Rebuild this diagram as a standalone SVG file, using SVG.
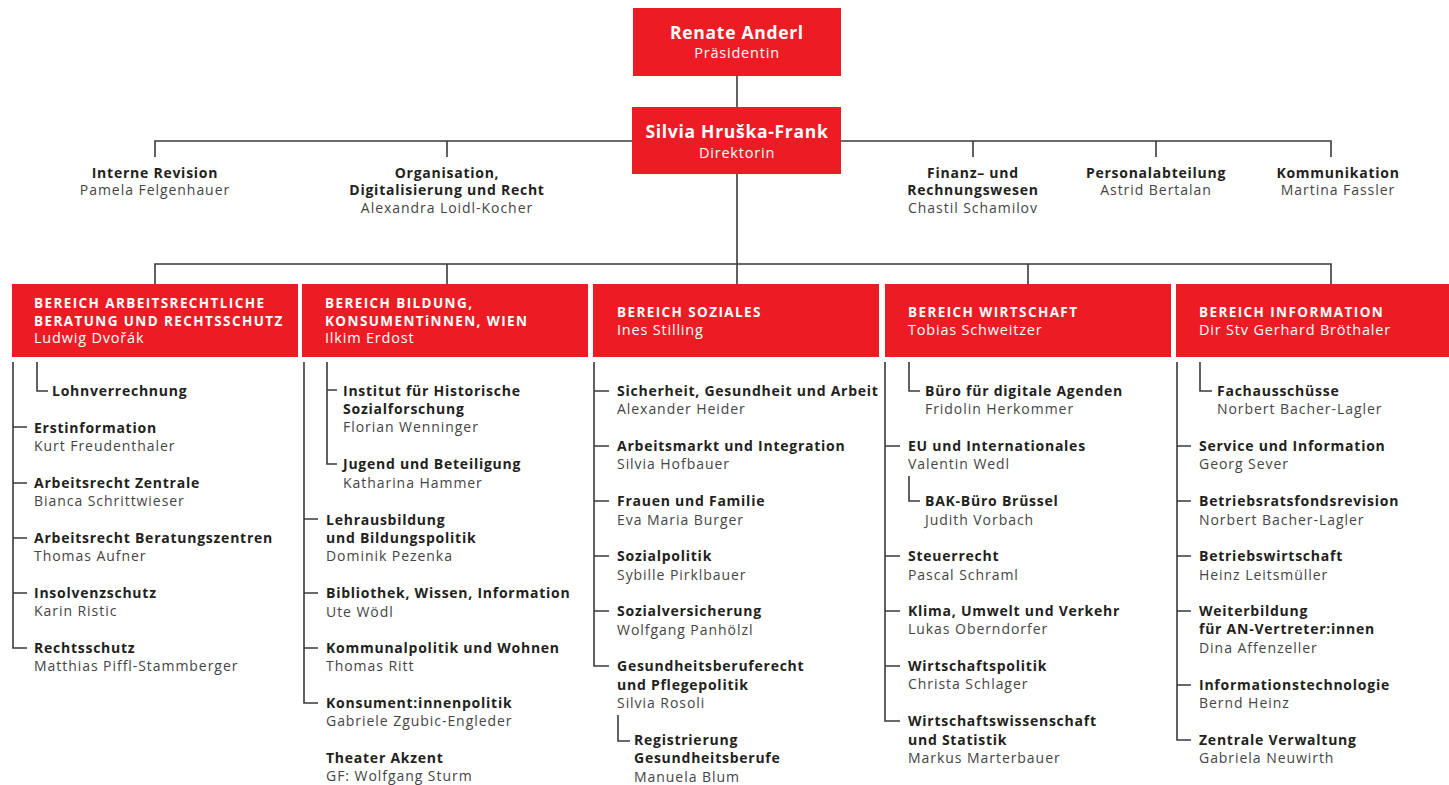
<svg xmlns="http://www.w3.org/2000/svg" width="1449" height="785" viewBox="0 0 1449 785">
<style>
text{font-family:"Open Sans","Liberation Sans",sans-serif}
.box{fill:#ED1C24}
.tb{font-size:17.5px;font-weight:700;fill:#fff;text-anchor:middle;letter-spacing:0.7px}
.ts{font-size:14.5px;fill:#fff;text-anchor:middle;letter-spacing:0.8px}
.h{font-size:13.5px;font-weight:700;fill:#fff;letter-spacing:1.4px}
.hn{font-size:14.5px;fill:#fff;letter-spacing:0.8px}
.t{font-size:14px;font-weight:700;fill:#231f20;letter-spacing:0.75px}
.n{font-size:14px;fill:#444;letter-spacing:0.95px}
.m{text-anchor:middle}
.c{stroke:#3a3a3a;stroke-width:1.6;fill:none}
</style>
<rect width="1449" height="785" fill="#fff"/>
<g id="connectors">
<path class="c" d="M737 76V107"/>
<path class="c" d="M632 141H155V157M447 141V157"/>
<path class="c" d="M841 141H1331V157M973 141V157M1156 141V157"/>
<path class="c" d="M737 174V284M155 284V264H1331V284M447 264V284M1028 264V284"/>
<path class="c" d="M13 362V648H27M13 427H27M13 483H27M13 538H27M13 593H27M37 362V391H48"/>
<path class="c" d="M304 362V703H318M304 519H318M304 593H318M304 648H318M327 362V464H337M327 390H337"/>
<path class="c" d="M594 362V666H609M594 391H609M594 446H609M594 501H609M594 556H609M594 611H609M618 715V741H630"/>
<path class="c" d="M885 362V721H900M885 446H900M885 556H900M885 611H900M885 666H900M909 362V391H920M909 476V501H920"/>
<path class="c" d="M1177 362V740H1191M1177 446H1191M1177 501H1191M1177 556H1191M1177 611H1191M1177 685H1191M1200 362V391H1212"/>
</g>
<g id="praesidentin">
<rect class="box" x="633" y="8" width="208" height="68"/>
<text class="tb" x="737" y="39">Renate Anderl</text>
<text class="ts" x="737" y="58">Präsidentin</text>
</g>
<g id="direktorin">
<rect class="box" x="632" y="107" width="209" height="67"/>
<text class="tb" x="737" y="138">Silvia Hruška-Frank</text>
<text class="ts" x="737" y="158">Direktorin</text>
</g>
<g id="interne-revision">
<text class="t m" x="155" y="178">Interne Revision</text>
<text class="n m" x="155" y="195">Pamela Felgenhauer</text>
</g>
<g id="organisation">
<text class="t m" x="447" y="178">Organisation,</text>
<text class="t m" x="447" y="195">Digitalisierung und Recht</text>
<text class="n m" x="447" y="213">Alexandra Loidl-Kocher</text>
</g>
<g id="finanz">
<text class="t m" x="973" y="178">Finanz– und</text>
<text class="t m" x="973" y="195">Rechnungswesen</text>
<text class="n m" x="973" y="213">Chastil Schamilov</text>
</g>
<g id="personal">
<text class="t m" x="1156" y="178">Personalabteilung</text>
<text class="n m" x="1156" y="195">Astrid Bertalan</text>
</g>
<g id="kommunikation">
<text class="t m" x="1338" y="178">Kommunikation</text>
<text class="n m" x="1338" y="195">Martina Fassler</text>
</g>
<g id="bereich-arbeitsrecht">
<rect class="box" x="12" y="284" width="286" height="73"/>
<text class="h" x="34" y="308">BEREICH ARBEITSRECHTLICHE</text>
<text class="h" x="34" y="326">BERATUNG UND RECHTSSCHUTZ</text>
<text class="hn" x="34" y="343">Ludwig Dvořák</text>
</g>
<g id="bereich-bildung">
<rect class="box" x="302" y="284" width="286" height="73"/>
<text class="h" x="325" y="308">BEREICH BILDUNG,</text>
<text class="h" x="325" y="326">KONSUMENTiNNEN, WIEN</text>
<text class="hn" x="325" y="343">Ilkim Erdost</text>
</g>
<g id="bereich-soziales">
<rect class="box" x="593" y="284" width="286" height="73"/>
<text class="h" x="617" y="317">BEREICH SOZIALES</text>
<text class="hn" x="617" y="335">Ines Stilling</text>
</g>
<g id="bereich-wirtschaft">
<rect class="box" x="885" y="284" width="286" height="73"/>
<text class="h" x="908" y="317">BEREICH WIRTSCHAFT</text>
<text class="hn" x="908" y="335">Tobias Schweitzer</text>
</g>
<g id="bereich-information">
<rect class="box" x="1176" y="284" width="273" height="73"/>
<text class="h" x="1199" y="317">BEREICH INFORMATION</text>
<text class="hn" x="1199" y="335">Dir Stv Gerhard Bröthaler</text>
</g>
<g id="col1">
<g id="lohnverrechnung"><text class="t" x="52" y="396">Lohnverrechnung</text></g>
<g id="erstinformation"><text class="t" x="34" y="433">Erstinformation</text><text class="n" x="34" y="451">Kurt Freudenthaler</text></g>
<g id="ar-zentrale"><text class="t" x="34" y="488">Arbeitsrecht Zentrale</text><text class="n" x="34" y="506">Bianca Schrittwieser</text></g>
<g id="ar-beratungszentren"><text class="t" x="34" y="543">Arbeitsrecht Beratungszentren</text><text class="n" x="34" y="561">Thomas Aufner</text></g>
<g id="insolvenzschutz"><text class="t" x="34" y="598">Insolvenzschutz</text><text class="n" x="34" y="616">Karin Ristic</text></g>
<g id="rechtsschutz"><text class="t" x="34" y="653">Rechtsschutz</text><text class="n" x="34" y="671">Matthias Piffl-Stammberger</text></g>
</g>
<g id="col2">
<g id="institut"><text class="t" x="343" y="396">Institut für Historische</text><text class="t" x="343" y="414">Sozialforschung</text><text class="n" x="343" y="432">Florian Wenninger</text></g>
<g id="jugend"><text class="t" x="343" y="469">Jugend und Beteiligung</text><text class="n" x="343" y="488">Katharina Hammer</text></g>
<g id="lehrausbildung"><text class="t" x="326" y="525">Lehrausbildung</text><text class="t" x="326" y="543">und Bildungspolitik</text><text class="n" x="326" y="561">Dominik Pezenka</text></g>
<g id="bibliothek"><text class="t" x="326" y="598">Bibliothek, Wissen, Information</text><text class="n" x="326" y="617">Ute Wödl</text></g>
<g id="kommunalpolitik"><text class="t" x="326" y="653">Kommunalpolitik und Wohnen</text><text class="n" x="326" y="671">Thomas Ritt</text></g>
<g id="konsumentinnenpolitik"><text class="t" x="326" y="708">Konsument:innenpolitik</text><text class="n" x="326" y="726">Gabriele Zgubic-Engleder</text></g>
<g id="theater"><text class="t" x="326" y="763">Theater Akzent</text><text class="n" x="326" y="781">GF: Wolfgang Sturm</text></g>
</g>
<g id="col3">
<g id="sicherheit"><text class="t" x="617" y="396">Sicherheit, Gesundheit und Arbeit</text><text class="n" x="617" y="414">Alexander Heider</text></g>
<g id="arbeitsmarkt"><text class="t" x="617" y="451">Arbeitsmarkt und Integration</text><text class="n" x="617" y="469">Silvia Hofbauer</text></g>
<g id="frauen"><text class="t" x="617" y="506">Frauen und Familie</text><text class="n" x="617" y="525">Eva Maria Burger</text></g>
<g id="sozialpolitik"><text class="t" x="617" y="561">Sozialpolitik</text><text class="n" x="617" y="580">Sybille Pirklbauer</text></g>
<g id="sozialversicherung"><text class="t" x="617" y="616">Sozialversicherung</text><text class="n" x="617" y="635">Wolfgang Panhölzl</text></g>
<g id="gesundheitsberuferecht"><text class="t" x="617" y="671">Gesundheitsberuferecht</text><text class="t" x="617" y="690">und Pflegepolitik</text><text class="n" x="617" y="708">Silvia Rosoli</text></g>
<g id="registrierung"><text class="t" x="634" y="745">Registrierung</text><text class="t" x="634" y="763">Gesundheitsberufe</text><text class="n" x="634" y="782">Manuela Blum</text></g>
</g>
<g id="col4">
<g id="buero-digital"><text class="t" x="925" y="396">Büro für digitale Agenden</text><text class="n" x="925" y="414">Fridolin Herkommer</text></g>
<g id="eu"><text class="t" x="908" y="451">EU und Internationales</text><text class="n" x="908" y="469">Valentin Wedl</text></g>
<g id="bak"><text class="t" x="925" y="506">BAK-Büro Brüssel</text><text class="n" x="925" y="525">Judith Vorbach</text></g>
<g id="steuerrecht"><text class="t" x="908" y="561">Steuerrecht</text><text class="n" x="908" y="580">Pascal Schraml</text></g>
<g id="klima"><text class="t" x="908" y="616">Klima, Umwelt und Verkehr</text><text class="n" x="908" y="634">Lukas Oberndorfer</text></g>
<g id="wirtschaftspolitik"><text class="t" x="908" y="671">Wirtschaftspolitik</text><text class="n" x="908" y="689">Christa Schlager</text></g>
<g id="wirtschaftswissenschaft"><text class="t" x="908" y="726">Wirtschaftswissenschaft</text><text class="t" x="908" y="745">und Statistik</text><text class="n" x="908" y="763">Markus Marterbauer</text></g>
</g>
<g id="col5">
<g id="fachausschuesse"><text class="t" x="1217" y="396">Fachausschüsse</text><text class="n" x="1217" y="414">Norbert Bacher-Lagler</text></g>
<g id="service"><text class="t" x="1199" y="451">Service und Information</text><text class="n" x="1199" y="469">Georg Sever</text></g>
<g id="brfrevision"><text class="t" x="1199" y="506">Betriebsratsfondsrevision</text><text class="n" x="1199" y="525">Norbert Bacher-Lagler</text></g>
<g id="betriebswirtschaft"><text class="t" x="1199" y="561">Betriebswirtschaft</text><text class="n" x="1199" y="580">Heinz Leitsmüller</text></g>
<g id="weiterbildung"><text class="t" x="1199" y="616">Weiterbildung</text><text class="t" x="1199" y="634">für AN-Vertreter:innen</text><text class="n" x="1199" y="653">Dina Affenzeller</text></g>
<g id="it"><text class="t" x="1199" y="690">Informationstechnologie</text><text class="n" x="1199" y="708">Bernd Heinz</text></g>
<g id="verwaltung"><text class="t" x="1199" y="745">Zentrale Verwaltung</text><text class="n" x="1199" y="763">Gabriela Neuwirth</text></g>
</g>
</svg>
